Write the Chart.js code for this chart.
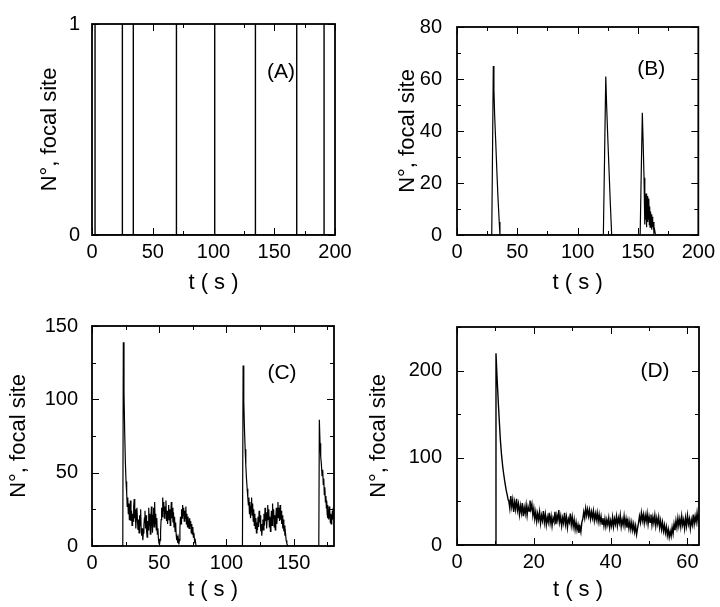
<!DOCTYPE html>
<html>
<head>
<meta charset="utf-8">
<script src="https://cdn.jsdelivr.net/npm/chart.js@4.4.1/dist/chart.umd.min.js"></script>
<style>
  html, body { margin: 0; padding: 0; background: #fff; }
  #wrap { position: relative; width: 720px; height: 607px; }
  canvas { position: absolute; }
  #cA { left: 0; top: 0; }
  #cB { left: 360px; top: 0; }
  #cC { left: 0; top: 300px; }
  #cD { left: 360px; top: 300px; }
</style>
</head>
<body>
<div id="wrap">
  <canvas id="cA" width="360" height="300"></canvas>
  <canvas id="cB" width="360" height="300"></canvas>
  <canvas id="cC" width="360" height="307"></canvas>
  <canvas id="cD" width="360" height="307"></canvas>
</div>
<script>
/* Four panels: number of molecules at the focal site vs time.
   (A) single events, (B)-(D) bursts with decay + noisy plateau. */

// ---- data ------------------------------------------------------------------
// (A) times (s) where a single molecule sits on the focal site (N = 1 spikes)
const spikeTimesA = [2.5, 25, 34, 69.5, 101, 134.5, 168.5, 191];

// (B) [t, N]
const seriesB = [
  [0, 0], [28.8, 0], [29.4, 30], [30.1, 65], [30.6, 56], [31.2, 46], [32, 37], [33, 25], [34, 14], [35, 5], [35.6, 0],
  [121.3, 0], [122.3, 30], [123.3, 61], [124, 50], [125, 37], [126, 25], [127, 13], [128.2, 0],
  [151.8, 0], [152.7, 24], [153.6, 47], [154.3, 35], [155, 22], [155.5, 16], [155.8, 4], [156.1, 15], [156.4, 6],
  [156.7, 16], [157, 3], [157.3, 13], [157.6, 7], [157.9, 15], [158.2, 5], [158.5, 12], [158.8, 6], [159.1, 14],
  [159.4, 4], [159.7, 11], [160, 3], [160.3, 9], [160.6, 4], [161, 8], [161.4, 2], [161.8, 7], [162.2, 3],
  [162.6, 5], [163.2, 1], [163.8, 2], [164.5, 0], [200, 0]
];

// (C) [t, N]
const seriesC = [
  [0, 0], [22.9, 0], [23.3, 139], [23.8, 105], [24.3, 78], [24.8, 58], [25.3, 44], [25.8, 36], [26.2, 27],
  [26.6, 33], [27, 22], [27.4, 29], [27.8, 18], [28.2, 26], [28.6, 31], [29, 17], [29.4, 24], [29.8, 14],
  [30.2, 22], [30.6, 17], [31, 27], [31.4, 32], [31.8, 19], [32.2, 25], [32.6, 12], [33, 20], [33.4, 26],
  [33.8, 18], [34.2, 11], [34.6, 18], [35, 9], [35.4, 21], [35.8, 14], [36.2, 25], [36.6, 10], [37, 7],
  [37.4, 12], [37.8, 4], [38.2, 9], [38.6, 14], [39, 19], [39.4, 24], [39.8, 12], [40.2, 21], [40.6, 10],
  [41, 6], [41.4, 17], [41.8, 11], [42.2, 26], [42.6, 14], [43, 22], [43.4, 8], [43.8, 18], [44.2, 27],
  [44.6, 16], [45, 9], [45.4, 21], [45.8, 26], [46.2, 13], [46.6, 30], [47, 15], [47.4, 22], [47.8, 11],
  [48.2, 19], [48.6, 8], [49, 12], [49.4, 5], [49.8, 2], [50.2, 1], [50.6, 4], [51, 10], [51.4, 18],
  [51.8, 26], [52.2, 20], [52.6, 33], [53, 24], [53.4, 30], [53.8, 19], [54.2, 27], [54.6, 22], [55, 31],
  [55.4, 17], [55.8, 24], [56.2, 15], [56.6, 21], [57, 28], [57.4, 18], [57.8, 25], [58.2, 14], [58.6, 22],
  [59, 30], [59.4, 19], [59.8, 26], [60.2, 16], [60.6, 23], [61, 13], [61.4, 20], [61.8, 10], [62.2, 16],
  [62.6, 8], [63, 4], [63.4, 7], [63.8, 2], [64.2, 5], [64.6, 1], [65, 4], [65.4, 12], [65.8, 20],
  [66.2, 15], [66.6, 25], [67, 19], [67.4, 28], [67.8, 21], [68.2, 26], [68.6, 17], [69, 24], [69.4, 19],
  [69.8, 27], [70.2, 15], [70.6, 22], [71, 13], [71.4, 20], [71.8, 16], [72.2, 12], [72.6, 19], [73, 14],
  [73.4, 17], [73.8, 9], [74.2, 15], [74.6, 8], [75, 13], [75.4, 6], [75.8, 9], [76.3, 3], [76.8, 4], [77.4, 0],
  [111.9, 0], [112.4, 123], [112.9, 98], [113.4, 80], [113.9, 66], [114.4, 55], [114.9, 46], [115.4, 39],
  [115.9, 33], [116.3, 28], [116.7, 33], [117.1, 22], [117.5, 30], [117.9, 19], [118.3, 27], [118.7, 33],
  [119.1, 21], [119.5, 29], [119.9, 17], [120.3, 25], [120.7, 14], [121.1, 22], [121.5, 12], [121.9, 19],
  [122.3, 9], [122.7, 16], [123.1, 11], [123.5, 20], [123.9, 13], [124.3, 24], [124.7, 16], [125.1, 21],
  [125.5, 10], [125.9, 15], [126.3, 7], [126.7, 13], [127.1, 18], [127.5, 11], [127.9, 22], [128.3, 14],
  [128.7, 26], [129.1, 17], [129.5, 23], [129.9, 12], [130.3, 19], [130.7, 28], [131.1, 18], [131.5, 25],
  [131.9, 13], [132.3, 20], [132.7, 10], [133.1, 17], [133.5, 24], [133.9, 14], [134.3, 29], [134.7, 19],
  [135.1, 25], [135.5, 13], [135.9, 21], [136.3, 11], [136.7, 18], [137.1, 26], [137.5, 15], [137.9, 22],
  [138.3, 30], [138.7, 19], [139.1, 26], [139.5, 17], [139.9, 28], [140.3, 18], [140.7, 24], [141.1, 15],
  [141.5, 21], [141.9, 12], [142.3, 18], [142.7, 10], [143.1, 14], [143.5, 7], [143.9, 9], [144.4, 4],
  [144.9, 2], [145.5, 0],
  [168.7, 0], [169.1, 86], [169.6, 70], [170.1, 61], [170.6, 56], [171.1, 48], [171.6, 52], [172, 42],
  [172.4, 46], [172.8, 35], [173.2, 40], [173.6, 30], [174, 34], [174.3, 26], [174.6, 31], [174.9, 22],
  [175.2, 28], [175.5, 19], [175.8, 25], [176.1, 18], [176.4, 27], [176.7, 20], [177, 24], [177.3, 16],
  [177.6, 22], [177.9, 15], [178.2, 21], [178.5, 17], [178.8, 24], [179.1, 18], [179.4, 26], [179.7, 19],
  [180, 22]
];

// (D) [t, N]
const seriesD = [
  [0, 0], [10, 0], [10.15, 220], [10.4, 195], [10.7, 168], [11, 143], [11.3, 120], [11.6, 103], [11.9, 90],
  [12.2, 80], [12.5, 71], [12.8, 63], [13.1, 57], [13.3, 52], [13.5, 50], [13.75, 42], [14, 56], [14.25, 44],
  [14.5, 52], [14.75, 38], [15, 49], [15.25, 41], [15.5, 53], [15.75, 40], [16, 47], [16.25, 35], [16.5, 45],
  [16.75, 37], [17, 48], [17.25, 33], [17.5, 43], [17.75, 36], [18, 46], [18.25, 34], [18.5, 44], [18.75, 39],
  [19, 51], [19.25, 41], [19.5, 47], [19.75, 34], [20, 42], [20.25, 30], [20.5, 38], [20.75, 27], [21, 36],
  [21.25, 29], [21.5, 38], [21.75, 25], [22, 34], [22.25, 28], [22.5, 39], [22.75, 26], [23, 35], [23.25, 23],
  [23.5, 32], [23.75, 26], [24, 37], [24.25, 25], [24.5, 33], [24.75, 22], [25, 31], [25.25, 27], [25.5, 38],
  [25.75, 24], [26, 34], [26.25, 28], [26.5, 40], [26.75, 26], [27, 33], [27.25, 22], [27.5, 31], [27.75, 25],
  [28, 37], [28.25, 24], [28.5, 32], [28.75, 20], [29, 30], [29.25, 26], [29.5, 36], [29.75, 23], [30, 32],
  [30.25, 21], [30.5, 29], [30.75, 18], [31, 26], [31.25, 17], [31.5, 23], [31.75, 14], [32, 21], [32.25, 15],
  [32.5, 26], [32.75, 30], [33, 38], [33.25, 31], [33.5, 42], [33.75, 34], [34, 41], [34.25, 33], [34.5, 40],
  [34.75, 30], [35, 38], [35.25, 31], [35.5, 39], [35.75, 28], [36, 36], [36.25, 29], [36.5, 37], [36.75, 27],
  [37, 35], [37.25, 26], [37.5, 33], [37.75, 24], [38, 31], [38.25, 22], [38.5, 30], [38.75, 21], [39, 29],
  [39.25, 23], [39.5, 31], [39.75, 20], [40, 28], [40.25, 22], [40.5, 32], [40.75, 21], [41, 30], [41.25, 24],
  [41.5, 33], [41.75, 22], [42, 31], [42.25, 25], [42.5, 34], [42.75, 21], [43, 29], [43.25, 23], [43.5, 33],
  [43.75, 22], [44, 30], [44.25, 20], [44.5, 28], [44.75, 19], [45, 27], [45.25, 18], [45.5, 26], [45.75, 17],
  [46, 24], [46.25, 15], [46.5, 22], [46.75, 12], [47, 19], [47.25, 25], [47.5, 33], [47.75, 26], [48, 37],
  [48.25, 28], [48.5, 35], [48.75, 25], [49, 34], [49.25, 27], [49.5, 36], [49.75, 24], [50, 33], [50.25, 26],
  [50.5, 35], [50.75, 23], [51, 32], [51.25, 25], [51.5, 34], [51.75, 22], [52, 31], [52.25, 24], [52.5, 32],
  [52.75, 20], [53, 28], [53.25, 18], [53.5, 26], [53.75, 16], [54, 23], [54.25, 14], [54.5, 21], [54.75, 11],
  [55, 18], [55.25, 9], [55.5, 16], [55.75, 10], [56, 20], [56.25, 13], [56.5, 24], [56.75, 17], [57, 28],
  [57.25, 20], [57.5, 31], [57.75, 22], [58, 30], [58.25, 21], [58.5, 33], [58.75, 23], [59, 29], [59.25, 19],
  [59.5, 31], [59.75, 22], [60, 34], [60.25, 24], [60.5, 30], [60.75, 19], [61, 29], [61.25, 23], [61.5, 35],
  [61.75, 24], [62, 33], [62.25, 26], [62.5, 37], [62.75, 27], [63, 35]
];

// axis ranges / tick steps: [min, max, tick step, labelled every]
const axisA = { x: [0, 200, 25, 50], y: [0, 1, 1, 1] };
const axisB = { x: [0, 200, 25, 50], y: [0, 80, 10, 20] };
const axisC = { x: [0, 180, 25, 50], y: [0, 150, 25, 50] };
const axisD = { x: [0, 63, 10, 20], y: [0, 250, 50, 100] };

(function () {
  "use strict";

  Chart.defaults.font.family = "'Liberation Sans', Arial, Helvetica, sans-serif";
  Chart.defaults.color = "#000";

  const TICK_FONT = { size: 20 };
  const TITLE_FONT = { size: 22 };

  // A: build 0 -> 1 -> 0 spikes from the event times
  const seriesA = [[0, 0]];
  spikeTimesA.forEach((t) => {
    seriesA.push([t, 0], [t, 1], [t, 0]);
  });
  seriesA.push([200, 0]);

  // ---- frame + inward tick marks (gnuplot look) --------------------------
  const framePlugin = {
    id: "frame",
    afterDraw(chart) {
      const { ctx, chartArea: a, scales } = chart;
      ctx.save();
      ctx.strokeStyle = "#000";
      ctx.lineWidth = 1;
      ctx.beginPath();
      scales.x.ticks.forEach((t, i) => {
        const px = Math.round(scales.x.getPixelForTick(i)) + 0.5;
        const len = t.label !== "" ? 7 : 4;
        ctx.moveTo(px, a.bottom); ctx.lineTo(px, a.bottom - len);
        ctx.moveTo(px, a.top); ctx.lineTo(px, a.top + len);
      });
      scales.y.ticks.forEach((t, i) => {
        const py = Math.round(scales.y.getPixelForTick(i)) + 0.5;
        const len = t.label !== "" ? 7 : 4;
        ctx.moveTo(a.left, py); ctx.lineTo(a.left + len, py);
        ctx.moveTo(a.right, py); ctx.lineTo(a.right - len, py);
      });
      ctx.stroke();
      ctx.lineWidth = 1.8;
      ctx.strokeRect(a.left, a.top, a.right - a.left, a.bottom - a.top);
      // panel letter
      const p = chart.options.plugins.frame;
      ctx.fillStyle = "#000";
      ctx.font = "21px 'Liberation Sans', Arial, sans-serif";
      ctx.textAlign = "center";
      ctx.textBaseline = "middle";
      ctx.fillText(p.letter, a.right - p.dx, a.top + p.dy);
      ctx.restore();
    },
  };

  function axisOpts(ax, title, fit, tickPad, titlePad) {
    const [min, max, step, major] = ax;
    return {
      type: "linear",
      min, max,
      afterFit: fit,
      grid: { display: false, drawTicks: false },
      border: { display: false },
      ticks: {
        stepSize: step,
        autoSkip: false,
        maxRotation: 0,
        includeBounds: false,
        padding: tickPad,
        font: TICK_FONT,
        color: "#000",
        callback: (v) => (Math.abs(v % major) < 1e-9 ? String(v) : ""),
      },
      title: { display: true, text: title, font: TITLE_FONT, color: "#000", padding: titlePad },
    };
  }

  function panel(id, series, axes, c) {
    const canvas = document.getElementById(id);
    const W = canvas.width, H = canvas.height;
    return new Chart(canvas, {
      type: "scatter",
      data: {
        datasets: [{
          data: series.map((p) => ({ x: p[0], y: p[1] })),
          showLine: true,
          borderColor: "#000",
          borderWidth: c.lw,
          pointRadius: 0,
          tension: 0,
        }],
      },
      options: {
        responsive: false,
        animation: false,
        events: [],
        layout: { padding: { left: c.padLeft, right: W - c.right, top: c.top, bottom: 0 } },
        plugins: {
          legend: { display: false },
          tooltip: { enabled: false },
          frame: { letter: c.letter, dx: c.dx, dy: c.dy },
        },
        scales: {
          x: axisOpts(axes.x, "t ( s )", (s) => { s.height = H - c.bottom; }, 5, { top: 0, bottom: 4 }),
          y: axisOpts(axes.y, "N°, focal site", (s) => { s.width = c.left - c.padLeft; }, c.yPad, { top: 4, bottom: 0 }),
        },
      },
      plugins: [framePlugin],
    });
  }

  panel("cA", seriesA, axisA, { padLeft: 33, left: 92, right: 335, top: 14, bottom: 235, yPad: 12, letter: "(A)", dx: 54, dy: 48, lw: 1.4 });
  panel("cB", seriesB, axisB, { padLeft: 31, left: 97, right: 340, top: 14, bottom: 235, yPad: 15, letter: "(B)", dx: 47, dy: 42, lw: 1.2 });
  panel("cC", seriesC, axisC, { padLeft: 2, left: 92, right: 334, top: 23, bottom: 246, yPad: 14, letter: "(C)", dx: 52, dy: 47, lw: 1.2 });
  panel("cD", seriesD, axisD, { padLeft: 2, left: 97, right: 339, top: 23, bottom: 245, yPad: 15, letter: "(D)", dx: 44, dy: 44, lw: 1.4 });
})();
</script>
</body>
</html>
